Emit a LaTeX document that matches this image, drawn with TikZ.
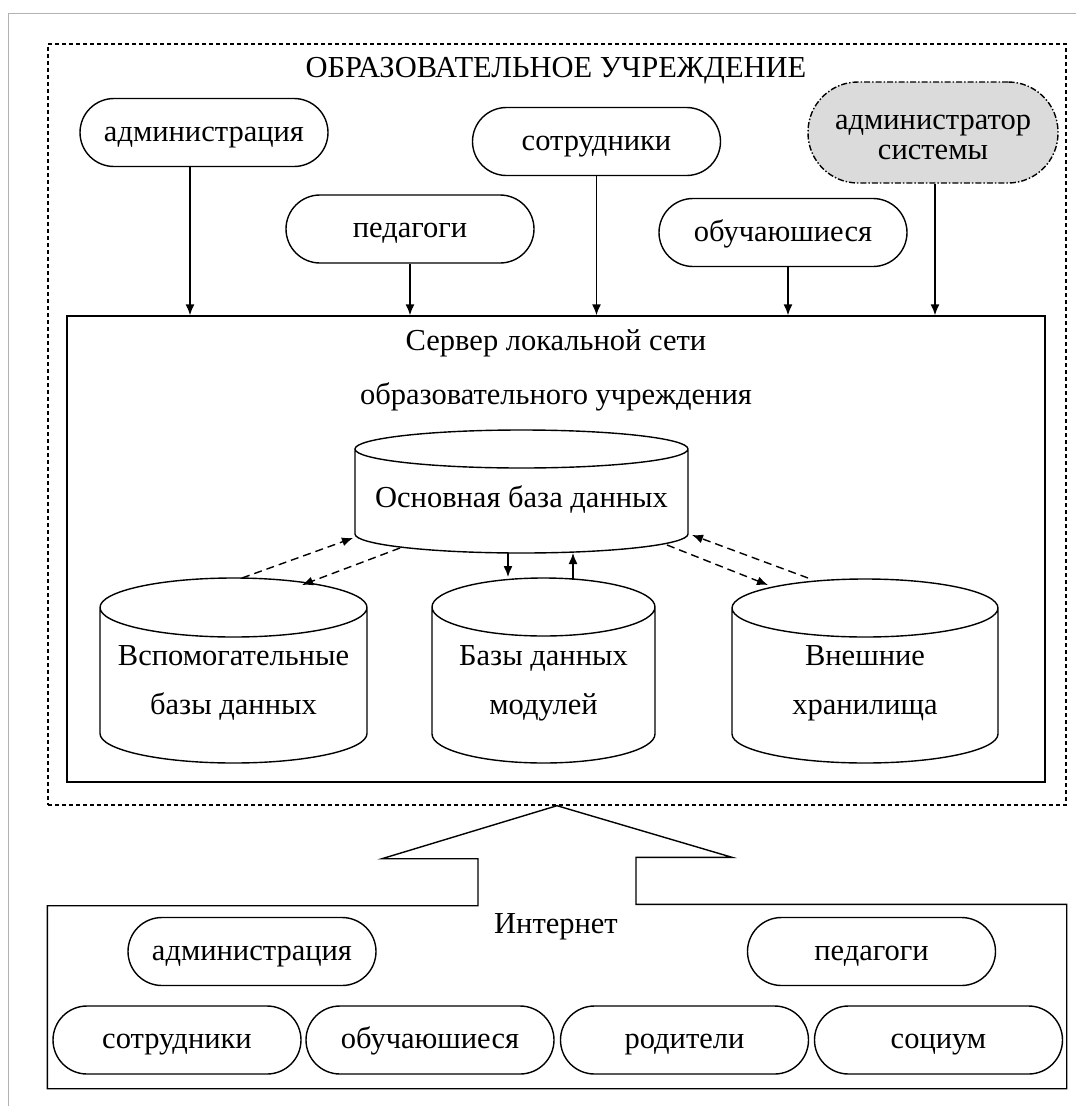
\documentclass[tikz,border=0pt]{standalone}
\usepackage{fontspec}
\setmainfont{Liberation Serif}
\usetikzlibrary{arrows.meta,positioning}

% cylinder outline round a named node: name, x radius, y radius
\newcommand{\dbdraw}[3]{%
  \draw ([yshift=-#3pt]#1.north west) -- ([yshift=#3pt]#1.south west)
    arc[start angle=180,end angle=360,x radius=#2pt,y radius=#3pt]
    -- ([yshift=-#3pt]#1.north east)
    arc[start angle=0,end angle=360,x radius=#2pt,y radius=#3pt];}

\begin{document}
\begin{tikzpicture}[x=1pt,y=-1pt,line width=1.4pt,
  every node/.style={font=\fontsize{30.5}{35}\selectfont},
  pill/.style={draw,rounded corners=34,minimum width=248,minimum height=68,inner sep=0,text height=24pt,text depth=6.5pt},
  dbnode/.style={inner sep=0,outer sep=0,align=center,text depth=6.5pt},
  link/.style={-{Latex[length=11pt,width=9pt]}},
  dlink/.style={link,dash pattern=on 8pt off 5pt}]

\useasboundingbox (0,0) rectangle (1076,1106);
\draw[line width=1pt,gray!60] (8,1106) -- (8,13) -- (1076,13);

% образовательное учреждение
\node[draw,dash pattern=on 4pt off 3pt,minimum width=1018,minimum height=761] (ou) at (557,424.5) {};
\node (title) at (556,71) {ОБРАЗОВАТЕЛЬНОЕ УЧРЕЖДЕНИЕ};

\node[pill] (adm) at (204,132.5) {администрация};
\node[pill] (ped) at (410,229) {педагоги};
\node[pill] (sotr) at (596.5,141.5) {сотрудники};
\node[pill] (obuch) at (783,232.5) {обучаюшиеся};
\node[pill,fill=gray!28,dash pattern=on 6pt off 2pt on 1.5pt off 2pt,minimum width=250,minimum height=101,rounded corners=50,align=center,text height=59.5pt] (admsys) at (933,132.5) {администратор\\[-5pt]системы};

\node[draw,minimum width=978,minimum height=466] (server) at (556,549) {};
\node[align=center,inner sep=0,text height=75pt,text depth=6.5pt] (servtext) at (556,369.75) {Сервер локальной сети\\[19pt]образовательного учреждения};

\draw[link] ([xshift=-14]adm.south) -- ([xshift=-14]adm.south |- server.north);
\draw[link] (ped.south) -- (ped.south |- server.north);
\draw[link] (sotr.south) -- (sotr.south |- server.north);
\draw[link] ([xshift=5]obuch.south) -- ([xshift=5]obuch.south |- server.north);
\draw[link] ([xshift=2]admsys.south) -- ([xshift=2]admsys.south |- server.north);

% базы данных
\node[dbnode,minimum width=333,minimum height=123,text height=37.5pt] (maindb) at (521.5,491.5) {Основная база данных};
\node[dbnode,minimum width=267,minimum height=185,text height=93.5pt] (auxdb) at (233.5,670.5) {Вспомогательные\\[14pt]базы данных};
\node[dbnode,minimum width=223,minimum height=185,text height=93.5pt] (moddb) at (543.5,670.5) {Базы данных\\[14pt]модулей};
\node[dbnode,minimum width=266,minimum height=184,text height=93.5pt] (extdb) at (865,671) {Внешние\\[14pt]хранилища};
\dbdraw{maindb}{166.5}{19}
\dbdraw{auxdb}{133.5}{29.5}
\dbdraw{moddb}{111.5}{29}
\dbdraw{extdb}{133}{29}

\draw[dlink] ([shift={(8.5,-92.5)}]auxdb.center) -- ([shift={(-168.5,46.5)}]maindb.center);
\draw[dlink] ([shift={(-121.5,56.5)}]maindb.center) -- ([shift={(68.5,-85.5)}]auxdb.center);
\draw[link] ([shift={(-13.5,61.5)}]maindb.center) -- ([shift={(-35.5,-93.5)}]moddb.center);
\draw[link] ([shift={(29.5,-90.5)}]moddb.center) -- ([shift={(51.5,61.5)}]maindb.center);
\draw[dlink] ([shift={(145.5,53.5)}]maindb.center) -- ([shift={(-97,-86)}]extdb.center);
\draw[dlink] ([shift={(-57,-93)}]extdb.center) -- ([shift={(170.5,43.5)}]maindb.center);

% интернет
\node[minimum width=1018,minimum height=183,inner sep=0] (inet) at (557,996.5) {};
\draw ([xshift=79]inet.north) -- ++(0,-47) -- ++(96,0) -- (ou.south) -- ++(-175,53) -- ++(96,0) -- ++(0,47)
  -| (inet.south west) -| (inet.north east) -- cycle;
\node (inettext) at (556,927) {Интернет};

\node[pill] (adm2) at (252,951.5) {администрация};
\node[pill] (ped2) at (871.5,951.5) {педагоги};
\node[pill] (sotr2) at (177,1040) {сотрудники};
\node[pill] (obuch2) at (430,1040) {обучаюшиеся};
\node[pill] (rod) at (684.5,1040) {родители};
\node[pill] (soc) at (938.5,1040) {социум};

\end{tikzpicture}
\end{document}
